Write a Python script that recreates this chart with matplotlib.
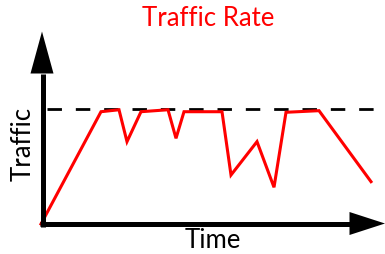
#!/usr/bin/env python3
"""Traffic rate sketch: traffic over time against a dashed rate limit."""
import matplotlib
matplotlib.use("Agg")
import matplotlib.pyplot as plt
from matplotlib.lines import Line2D
from matplotlib.patches import Polygon
from matplotlib.transforms import IdentityTransform

# time (arbitrary units) and traffic (% of the limit)
time = [0, 60, 78, 86, 100, 127, 135, 143, 181, 190, 216, 233, 245, 278, 330]
traffic = [0, 97.9, 99.6, 71.8, 97.9, 99.6, 74.7, 97.9, 97.9, 42.7, 71.8, 32.0,
           97.4, 98.8, 36.9]
limit = 100

title = "Traffic Rate"
xlabel = "Time"
ylabel = "Traffic"

W, H = 385, 254
fig = plt.figure(figsize=(W / 100, H / 100), dpi=100)

# axes origin sits at pixel (41, 224) from the top-left
ox, oy = 41, H - 224
px_per_unit_y = 1.147
ax = fig.add_axes([0, 0, 1, 1])
ax.set_xlim(-ox, W - ox)
ax.set_ylim(-oy / px_per_unit_y, (H - oy) / px_per_unit_y)
ax.axis("off")

ax.plot(time, traffic, color="#ff0000", lw=2.2, solid_joinstyle="miter",
        zorder=3)
ax.hlines(limit, 5.7, W - ox, colors="black", lw=2.0,
          linestyles=(0, (5.2, 5.0)), zorder=2)

# axis lines with arrow heads, drawn in figure pixels
ident = IdentityTransform()
ax_x, ax_y = 42.5, H - 224
fig.add_artist(Line2D([ax_x, ax_x], [ax_y - 2.5, H - 74], color="black",
                      lw=3.6, solid_capstyle="butt", transform=ident))
fig.add_artist(Line2D([ax_x - 2.5, 350], [ax_y, ax_y], color="black",
                      lw=3.6, solid_capstyle="butt", transform=ident))
fig.add_artist(Polygon([[30.5, H - 73.5], [53.5, H - 73.5], [42, H - 31.5]],
                       closed=True, color="black", lw=0, transform=ident))
fig.add_artist(Polygon([[349.5, H - 212], [349.5, H - 235], [385, H - 223.5]],
                       closed=True, color="black", lw=0, transform=ident))

font = ["Lato", "DejaVu Sans"]
fig.text(208 / W, 1 - 18 / H, title, color="#ff0000", fontsize=18.5,
         family=font, ha="center", va="center")
fig.text(213 / W, 1 - 241 / H, xlabel, color="black", fontsize=18.5,
         family=font, ha="center", va="center")
fig.text(23 / W, 1 - 144 / H, ylabel, color="black", fontsize=18.5,
         family=font, ha="center", va="center", rotation=90)

fig.savefig("out.png", dpi=100)
